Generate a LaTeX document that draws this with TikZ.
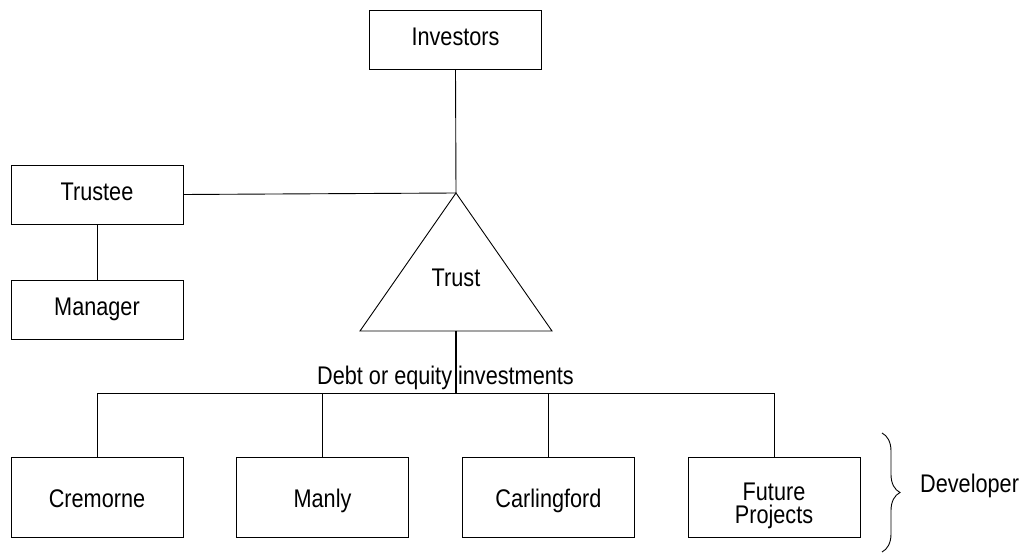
\documentclass[tikz,border=0pt]{standalone}
\usepackage{fontspec}
\setmainfont{Liberation Sans}[FakeStretch=0.85]
\usetikzlibrary{decorations.pathreplacing}
\begin{document}
\begin{tikzpicture}[x=1pt,y=-1pt,
  font=\fontsize{25.5}{23}\selectfont,
  box/.style={draw, line width=0.9pt, minimum width=172pt, minimum height=59pt,
    inner sep=0pt, text height=17pt, text depth=5pt, align=center},
  bigbox/.style={box, minimum height=80pt, text height=25pt, text depth=5pt},
  link/.style={line width=0.9pt},
  stem/.style={line width=1.5pt}]
\useasboundingbox (0,0) rectangle (1029,553);
% top part
\node[box] (inv) at (455.5,39.5) {Investors};
\node[box] (trustee) at (97,194.5) {Trustee};
\node[box] (manager) at (97,309.5) {Manager};
\coordinate (apex) at (456,193);
\coordinate (bl) at (360,331);
\coordinate (br) at (552,331);
\coordinate (base) at (456,331);
\draw[link] (apex) -- (bl) -- (br) -- cycle;
\node (trust) at (456,278) {Trust};
\draw[link] (inv.south) -- (apex);
\draw[link] (trustee.east) -- (apex);
\draw[link] (trustee.south) -- (manager.north);
% label and bus
\node[anchor=base] (debt) at (445.5,385) {Debt or equity investments};
\coordinate (bus) at (456,393);
\draw[stem] (base) -- (bus);
% bottom boxes
\node[bigbox] (cre) at (97,497) {Cremorne};
\node[bigbox] (man) at (322.5,497) {Manly};
\node[bigbox] (car) at (548.5,497) {Carlingford};
\node[bigbox, text height=55pt, text depth=3pt] (fut) at (774,497) {Future\\Projects};
\draw[link] (cre.north) -- (cre.north |- bus) -- (fut.north |- bus) -- (fut.north);
\draw[link] (man.north) -- (man.north |- bus);
\draw[link] (car.north) -- (car.north |- bus);
% brace
\coordinate (brtop) at (882,433);
\coordinate (brbot) at (882,552);
\draw[link, decorate, decoration={brace, amplitude=18pt}] (brtop) -- (brbot);
\node[anchor=base west, inner sep=0pt] (dev) at (920,492) {Developer};
\end{tikzpicture}
\end{document}
